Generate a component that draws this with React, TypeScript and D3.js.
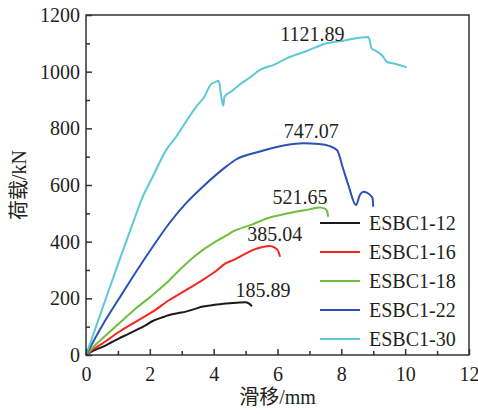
import React, { useEffect, useRef } from 'react';
import * as d3 from 'd3';

interface Series {
  name: string;
  xs: number[];
  ys: number[];
  peak: string;
}

const seriesNames = ['ESBC1-12', 'ESBC1-16', 'ESBC1-18', 'ESBC1-22', 'ESBC1-30'];
const peakLabels = ['185.89', '385.04', '521.65', '747.07', '1121.89'];

const slip12 = [0, 0.25, 0.52, 0.8, 1.04, 1.3, 1.57, 1.85, 2.09, 2.35, 2.61, 2.9, 3.13, 3.4, 3.66, 3.9, 4.18, 4.5, 4.8, 4.98, 5.1, 5.2];
const load12 = [0, 16, 29, 45, 59, 73, 88, 104, 120, 131, 141, 148, 153, 162, 171, 175, 179, 183, 185, 186, 182, 172];

const slip16 = [0, 0.25, 0.52, 1.04, 1.57, 2.09, 2.61, 3.13, 3.66, 4.02, 4.39, 4.61, 5.0, 5.24, 5.5, 5.76, 5.9, 6.03, 6.08];
const load16 = [0, 22, 41, 82, 118, 153, 194, 229, 265, 292, 324, 335, 358, 371, 380, 385, 380, 365, 347];

const slip18 = [0, 0.25, 0.52, 1.04, 1.57, 2.09, 2.51, 2.93, 3.45, 3.97, 4.39, 4.61, 5.2, 5.66, 6.2, 6.7, 7.0, 7.33, 7.5, 7.56, 7.59];
const load18 = [0, 31, 59, 112, 165, 212, 253, 300, 353, 394, 421, 436, 460, 482, 497, 508, 514, 521, 516, 505, 488];

const slip22 = [0, 0.52, 1.04, 1.57, 2.09, 2.61, 3.13, 3.66, 4.39, 4.7, 5.45, 6.27, 6.81, 7.3, 7.64, 7.87, 8.05, 8.22, 8.46, 8.58, 8.69, 8.8, 8.9, 8.98, 9.0];
const load22 = [0, 106, 200, 294, 382, 465, 535, 594, 665, 690, 718, 741, 747, 745, 737, 722, 660, 600, 529, 565, 576, 573, 565, 553, 523];

const slip30 = [0, 0.5, 1.0, 1.5, 1.78, 2.09, 2.51, 2.82, 3.13, 3.45, 3.7, 3.92, 4.05, 4.16, 4.23, 4.3, 4.34, 4.55, 4.8, 5.17, 5.45, 5.9, 6.29, 6.9, 7.54, 8.1, 8.58, 8.85, 8.95, 9.05, 9.16, 9.31, 9.42, 9.7, 10.05];
const load30 = [0, 160, 320, 475, 559, 629, 723, 770, 823, 876, 910, 956, 963, 968, 918, 880, 912, 930, 953, 982, 1006, 1025, 1047, 1072, 1100, 1110, 1120, 1122, 1082, 1075, 1068, 1053, 1035, 1027, 1015];

const xTicks = [0, 2, 4, 6, 8, 10, 12];
const yTicks = [0, 200, 400, 600, 800, 1000, 1200];

const App: React.FC = () => {
  const svgRef = useRef<SVGSVGElement | null>(null);

  useEffect(() => {
    const width = 478;
    const height = 414;
    const margin = { top: 15, right: 9, bottom: 59, left: 86 };
    const font = '"Liberation Serif", "Times New Roman", "Noto Sans CJK SC", serif';
    const ink = '#231f20';
    const colors = ['#1a1a1a', '#f8251c', '#6dbf3e', '#2a52b4', '#5ec8d5'];
    // label offset from peak point, px
    const labelOffsets = [[18, -5], [5, -5], [-20, -3], [8, -5], [-56, 4]];

    const allXs = [slip12, slip16, slip18, slip22, slip30];
    const allYs = [load12, load16, load18, load22, load30];
    const data: Series[] = seriesNames.map((name, i) => ({
      name, xs: allXs[i], ys: allYs[i], peak: peakLabels[i],
    }));

    const svg = d3.select(svgRef.current);
    svg.selectAll('*').remove();
    svg.attr('width', width).attr('height', height);

    const x = d3.scaleLinear().domain([0, 12]).range([margin.left, width - margin.right]);
    const y = d3.scaleLinear().domain([0, 1200]).range([height - margin.bottom, margin.top]);

    svg.append('rect').attr('width', width).attr('height', height).attr('fill', '#fff');

    const line = d3.line<[number, number]>()
      .x(d => x(d[0]))
      .y(d => y(d[1]))
      .curve(d3.curveMonotoneX);

    const plot = svg.append('g');
    data.forEach((s, i) => {
      const pts = s.xs.map((v, j) => [v, s.ys[j]] as [number, number]);
      plot.append('path')
        .attr('d', line(pts))
        .attr('fill', 'none')
        .attr('stroke', colors[i])
        .attr('stroke-width', 2)
        .attr('stroke-linejoin', 'round');

      const k = d3.maxIndex(s.ys);
      plot.append('text')
        .attr('x', x(s.xs[k]) + labelOffsets[i][0])
        .attr('y', y(s.ys[k]) + labelOffsets[i][1])
        .attr('text-anchor', 'middle')
        .attr('font-family', font)
        .attr('font-size', 20)
        .attr('fill', ink)
        .text(s.peak);
    });

    // frame
    svg.append('rect')
      .attr('x', x(0)).attr('y', y(1200))
      .attr('width', x(12) - x(0)).attr('height', y(0) - y(1200))
      .attr('fill', 'none').attr('stroke', '#333').attr('stroke-width', 1.5);

    // inward ticks
    const xAxis = d3.axisBottom(x).tickValues(xTicks).tickSize(-6).tickPadding(12).tickFormat(d3.format('d'));
    const xMinor = d3.axisBottom(x).tickValues(d3.range(1, 12, 2)).tickSize(-4).tickFormat(() => '');
    const yAxis = d3.axisLeft(y).tickValues(yTicks).tickSize(-6).tickPadding(6).tickFormat(d3.format('d'));
    const yMinor = d3.axisLeft(y).tickValues(d3.range(100, 1200, 200)).tickSize(-4).tickFormat(() => '');

    [xAxis, xMinor].forEach(ax => {
      const g = svg.append('g').attr('transform', `translate(0,${y(0)})`).call(ax);
      g.select('.domain').remove();
      g.selectAll('line').attr('stroke', '#333').attr('stroke-width', 1.5);
      g.selectAll('text').attr('font-family', font).attr('font-size', 20).attr('fill', ink);
    });
    [yAxis, yMinor].forEach(ax => {
      const g = svg.append('g').attr('transform', `translate(${x(0)},0)`).call(ax);
      g.select('.domain').remove();
      g.selectAll('line').attr('stroke', '#333').attr('stroke-width', 1.5);
      g.selectAll('text').attr('font-family', font).attr('font-size', 20).attr('fill', ink);
    });

    svg.append('text')
      .attr('x', (x(0) + x(12)) / 2)
      .attr('y', 404)
      .attr('text-anchor', 'middle')
      .attr('font-family', font)
      .attr('font-size', 20)
      .attr('fill', ink)
      .text('滑移/mm');

    svg.append('text')
      .attr('transform', `translate(26,${(y(0) + y(1200)) / 2}) rotate(-90)`)
      .attr('text-anchor', 'middle')
      .attr('font-family', font)
      .attr('font-size', 20)
      .attr('fill', ink)
      .text('荷载/kN');

    // legend
    const legend = svg.append('g');
    data.forEach((s, i) => {
      const cy = 223 + i * 29;
      legend.append('line')
        .attr('x1', 320).attr('x2', 360).attr('y1', cy).attr('y2', cy)
        .attr('stroke', colors[i]).attr('stroke-width', 2);
      legend.append('text')
        .attr('x', 369).attr('y', cy + 7)
        .attr('font-family', font)
        .attr('font-size', 20)
        .attr('fill', ink)
        .text(s.name);
    });
  }, []);

  return <svg ref={svgRef} style={{ position: 'absolute', left: 0, top: 0, display: 'block' }}></svg>;
};

export default App;
